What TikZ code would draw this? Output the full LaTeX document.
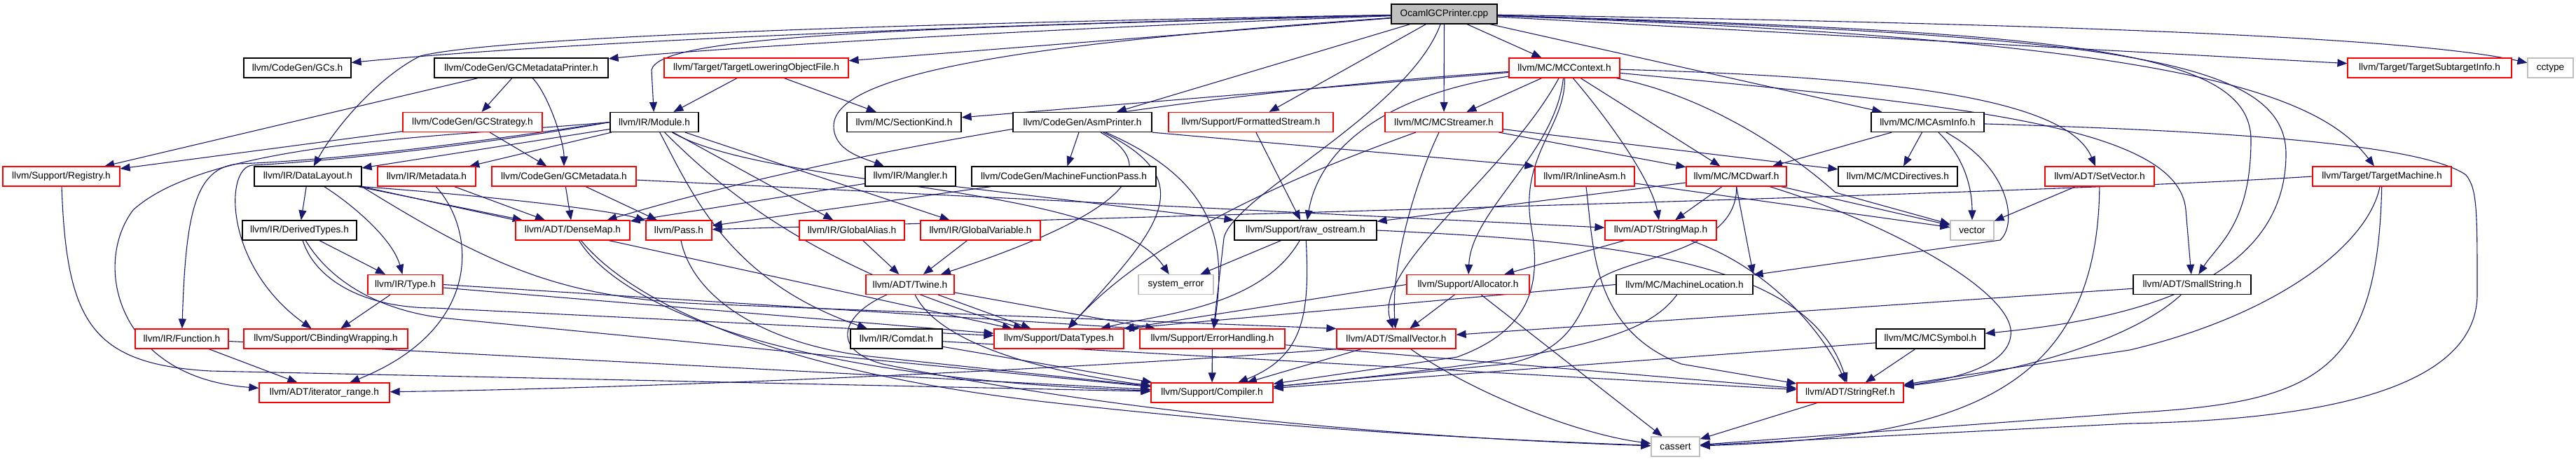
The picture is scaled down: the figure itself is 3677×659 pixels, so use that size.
\documentclass[tikz,border=0pt]{standalone}
\usepackage{fontspec}
\setmainfont{Liberation Sans}
\usetikzlibrary{arrows.meta}
\definecolor{edgec}{HTML}{191970}
\definecolor{grayb}{HTML}{BFBFBF}
\definecolor{rootf}{HTML}{BFBFBF}
\definecolor{redb}{HTML}{FF0000}
\pgfdeclarelayer{bg}
\pgfsetlayers{bg,main}
\begin{document}
\begin{tikzpicture}[x=1pt,y=-1pt,
  nbox/.style={rectangle, draw=black, line width=1.2pt, fill=white, minimum height=28pt, inner sep=0pt, font=\fontsize{13.7}{16}\selectfont},
  rdbox/.style={nbox, draw=redb},
  gybox/.style={nbox, draw=grayb},
  rtbox/.style={nbox, fill=rootf},
  dep/.style={draw=edgec, line width=1.1pt, -{Triangle[length=14pt,width=11pt]}, fill=none}]
\useasboundingbox (0,0) rectangle (3677,659);
% row 0
\node[rtbox,minimum width=151pt] (root) at (2061.5,20) {OcamlGCPrinter.cpp};
% row 1
\node[nbox,minimum width=153pt] (gcs) at (424.5,97) {llvm/CodeGen/GCs.h};
\node[nbox,minimum width=248pt] (gcmp) at (744,97) {llvm/CodeGen/GCMetadataPrinter.h};
\node[rdbox,minimum width=263pt] (tlof) at (1079.5,97) {llvm/Target/TargetLoweringObjectFile.h};
\node[rdbox,minimum width=158pt] (mcctx) at (2233,97) {llvm/MC/MCContext.h};
\node[rdbox,minimum width=234pt] (tsi) at (3468,97) {llvm/Target/TargetSubtargetInfo.h};
\node[gybox,minimum width=65pt] (cctype) at (3640.5,97) {cctype};
% row 2
\node[rdbox,minimum width=199pt] (gcstrat) at (674.5,174.5) {llvm/CodeGen/GCStrategy.h};
\node[nbox,minimum width=126pt] (module) at (934,174.5) {llvm/IR/Module.h};
\node[nbox,minimum width=163pt] (seck) at (1290.5,174.5) {llvm/MC/SectionKind.h};
\node[nbox,minimum width=198pt] (asmp) at (1545,174.5) {llvm/CodeGen/AsmPrinter.h};
\node[rdbox,minimum width=235pt] (fstream) at (1785.5,174.5) {llvm/Support/FormattedStream.h};
\node[rdbox,minimum width=168pt] (mcstr) at (2061,174.5) {llvm/MC/MCStreamer.h};
\node[nbox,minimum width=161pt] (mcai) at (2751.5,174.5) {llvm/MC/MCAsmInfo.h};
% row 3
\node[rdbox,minimum width=167pt] (reg) at (87.5,252) {llvm/Support/Registry.h};
\node[nbox,minimum width=153pt] (dl) at (439.5,252) {llvm/IR/DataLayout.h};
\node[rdbox,minimum width=140pt] (meta) at (609,252) {llvm/IR/Metadata.h};
\node[rdbox,minimum width=206pt] (gcmd) at (805,252) {llvm/CodeGen/GCMetadata.h};
\node[nbox,minimum width=129pt] (mangler) at (1299.5,252) {llvm/IR/Mangler.h};
\node[nbox,minimum width=263pt] (mfp) at (1518.5,252) {llvm/CodeGen/MachineFunctionPass.h};
\node[rdbox,minimum width=142pt] (inasm) at (2262,252) {llvm/IR/InlineAsm.h};
\node[rdbox,minimum width=143pt] (dwarf) at (2478.5,252) {llvm/MC/MCDwarf.h};
\node[nbox,minimum width=170pt] (mcdir) at (2709,252) {llvm/MC/MCDirectives.h};
\node[rdbox,minimum width=156pt] (setv) at (2997,252) {llvm/ADT/SetVector.h};
\node[rdbox,minimum width=198pt] (tm) at (3400,252) {llvm/Target/TargetMachine.h};
% row 4
\node[nbox,minimum width=163pt] (dtypes) at (427.5,329) {llvm/IR/DerivedTypes.h};
\node[rdbox,minimum width=163pt] (dmap) at (817.5,329) {llvm/ADT/DenseMap.h};
\node[rdbox,minimum width=94pt] (pass) at (969,329) {llvm/Pass.h};
\node[rdbox,minimum width=150pt] (galias) at (1216,329) {llvm/IR/GlobalAlias.h};
\node[rdbox,minimum width=171pt] (gvar) at (1399.5,329) {llvm/IR/GlobalVariable.h};
\node[nbox,minimum width=203pt] (raw) at (1863.5,329) {llvm/Support/raw\_ostream.h};
\node[rdbox,minimum width=159pt] (smap) at (2370.5,329) {llvm/ADT/StringMap.h};
\node[gybox,minimum width=62pt] (vector) at (2815,329) {vector};
% row 5
\node[rdbox,minimum width=107pt] (type) at (578.5,406.5) {llvm/IR/Type.h};
\node[rdbox,minimum width=126pt] (twine) at (1299,406.5) {llvm/ADT/Twine.h};
\node[gybox,minimum width=107pt] (syserr) at (1678.5,406.5) {system\_error};
\node[rdbox,minimum width=175pt] (alloc) at (2095.5,406.5) {llvm/Support/Allocator.h};
\node[nbox,minimum width=195pt] (mloc) at (2404.5,406.5) {llvm/MC/MachineLocation.h};
\node[nbox,minimum width=168pt] (sstr) at (3129,406.5) {llvm/ADT/SmallString.h};
% row 6
\node[rdbox,minimum width=133pt] (func) at (259.5,484) {llvm/IR/Function.h};
\node[rdbox,minimum width=234pt] (cbind) at (465,484) {llvm/Support/CBindingWrapping.h};
\node[nbox,minimum width=131pt] (comdat) at (1279.5,484) {llvm/IR/Comdat.h};
\node[rdbox,minimum width=185pt] (dtypes2) at (1511.5,484) {llvm/Support/DataTypes.h};
\node[rdbox,minimum width=207pt] (errh) at (1730.5,484) {llvm/Support/ErrorHandling.h};
\node[rdbox,minimum width=170pt] (svec) at (1993,484) {llvm/ADT/SmallVector.h};
\node[nbox,minimum width=155pt] (mcsym) at (2755.5,484) {llvm/MC/MCSymbol.h};
% row 7
\node[rdbox,minimum width=186pt] (itr) at (463,561) {llvm/ADT/iterator\_range.h};
\node[rdbox,minimum width=174pt] (comp) at (1730,561) {llvm/Support/Compiler.h};
\node[rdbox,minimum width=152pt] (sref) at (2641,561) {llvm/ADT/StringRef.h};
% row 8
\node[gybox,minimum width=69pt] (cassert) at (2391.5,638) {cassert};

\begin{pgfonlayer}{bg}
% root
\draw[dep] (root) .. controls (1400,35) and (800,60) .. (gcs);
\draw[dep] (root) .. controls (1500,40) and (1000,70) .. (gcmp);
\draw[dep] (root) .. controls (1200,35) and (700,55) .. (600,80) .. controls (540,110) and (480,180) .. (dl);
\draw[dep] (root) .. controls (1300,40) and (940,50) .. (930,100) -- (module);
\draw[dep] (root) -- (tlof);
\draw[dep] (root) .. controls (1500,60) and (1190,100) .. (1190,180) .. controls (1190,215) and (1230,225) .. (mangler);
\draw[dep] (root) -- (asmp);
\draw[dep] (root) -- (fstream);
\draw[dep] (root) -- (mcstr);
\draw[dep] (root) -- (mcctx);
\draw[dep] (root) -- (mcai);
\draw[dep] (root) -- (tsi);
\draw[dep] (root) .. controls (3000,35) and (3450,55) .. (cctype);
\draw[dep] (root) .. controls (3050,55) and (3300,120) .. (tm);
\draw[dep] (root) .. controls (2950,45) and (3213,70) .. (3213,200) .. controls (3213,320) and (3165,350) .. (sstr);
\draw[dep] (root) .. controls (3000,50) and (3263,80) .. (3263,220) .. controls (3263,420) and (3000,460) .. (mcsym);
\draw[dep] (root) .. controls (2010,160) and (1760,280) .. (1747,340) -- (errh);
% GCMetadataPrinter, GCStrategy, TLOF
\draw[dep] (gcmp) -- (gcstrat);
\draw[dep] (gcmp) .. controls (780,130) and (805,200) .. (gcmd);
\draw[dep] (gcmp) -- (reg);
\draw[dep] (gcstrat) -- (gcmd);
\draw[dep] (gcstrat) -- (reg);
\draw[dep] (tlof) -- (module);
\draw[dep] (tlof) -- (seck);
% Module
\draw[dep] (module) -- (meta);
\draw[dep] (module) -- (dl);
\draw[dep] (module) -- (galias);
\draw[dep] (module) -- (gvar);
\draw[dep] (module) .. controls (990,280) and (1040,400) .. (comdat);
\draw[dep] (module) .. controls (1020,260) and (1150,380) .. (dtypes2);
\draw[dep] (module) .. controls (1100,270) and (1580,260) .. (syserr);
\draw[dep] (module.west) .. controls (700,200) and (500,228) .. (340,234) .. controls (280,240) and (265,300) .. (func);
\draw[dep] (module.west) .. controls (700,205) and (480,230) .. (360,236) .. controls (320,240) and (320,380) .. (cbind);
\draw[dep] (module.west) .. controls (650,195) and (300,200) .. (190,300) .. controls (130,380) and (170,540) .. (itr);
% DataLayout
\draw[dep] (dl) -- (dtypes);
\draw[dep] (dl) .. controls (500,290) and (560,340) .. (type);
\draw[dep] (dl) -- (dmap);
\draw[dep] (dl.south east) .. controls (700,280) and (870,300) .. (pass);
\draw[dep] (dl.south east) -- (dtypes2);
\draw[dep] (dl.south east) .. controls (700,380) and (800,425) .. (1000,434) -- (svec.north west);
% DerivedTypes, Type, Function, Metadata
\draw[dep] (dtypes) -- (type);
\draw[dep] (dtypes) .. controls (450,400) and (520,440) .. (620,440) -- (dtypes2);
\draw[dep] (dtypes) .. controls (470,400) and (540,445) .. (640,455) -- (comp);
\draw[dep] (type) -- (cbind);
\draw[dep] (type) -- (dtypes2);
\draw[dep] (type.east) -- (errh.north west);
\draw[dep] (func) -- (itr);
\draw[dep] (func) -- (comp);
\draw[dep] (meta) -- (dmap);
\draw[dep] (meta) .. controls (680,330) and (690,470) .. (itr);
% Registry
\draw[dep] (reg) .. controls (95,460) and (130,520) .. (300,530) -- (comp);
% GCMetadata
\draw[dep] (gcmd) -- (dmap);
\draw[dep] (gcmd) -- (pass);
\draw[dep] (gcmd) -- (smap);
% Mangler
\draw[dep] (mangler) -- (dmap);
\draw[dep] (mangler.south east) -- (raw.north west);
% AsmPrinter
\draw[dep] (asmp) -- (mfp);
\draw[dep] (asmp) .. controls (1680,250) and (1560,320) .. (twine);
\draw[dep] (asmp.south east) -- (inasm.north west);
\draw[dep] (asmp) .. controls (1720,260) and (1650,330) .. (dtypes2);
\draw[dep] (asmp) .. controls (1740,260) and (1750,350) .. (errh);
\draw[dep] (mfp) -- (pass);
\draw[dep] (fstream) -- (raw);
% MCStreamer
\draw[dep] (mcstr) .. controls (2020,260) and (1985,380) .. (svec);
\draw[dep] (mcstr) -- (mcdir);
\draw[dep] (mcstr) -- (dwarf);
\draw[dep] (mcstr) .. controls (1880,240) and (1650,330) .. (dtypes2);
% MCContext
\draw[dep] (mcctx) -- (seck);
\draw[dep] (mcctx) .. controls (1600,140) and (1150,230) .. (dmap);
\draw[dep] (mcctx) -- (mcstr);
\draw[dep] (mcctx) .. controls (1950,140) and (1880,230) .. (raw);
\draw[dep] (mcctx) .. controls (2150,250) and (1960,380) .. (svec);
\draw[dep] (mcctx) .. controls (2220,220) and (2100,300) .. (alloc);
\draw[dep] (mcctx) .. controls (2235,180) and (2170,220) .. (2185,320) .. controls (2200,400) and (2190,470) .. (2080,510) -- (comp);
\draw[dep] (mcctx) .. controls (2320,200) and (2360,270) .. (smap);
\draw[dep] (mcctx) -- (dwarf);
\draw[dep] (mcctx) .. controls (2700,110) and (2950,140) .. (setv);
\draw[dep] (mcctx) .. controls (2450,140) and (2570,230) .. (2620,275) -- (vector);
\draw[dep] (mcctx) .. controls (2800,150) and (3110,180) .. (3120,300) -- (sstr);
% MCAsmInfo
\draw[dep] (mcai) -- (dwarf);
\draw[dep] (mcai) -- (mcdir);
\draw[dep] (mcai) .. controls (2810,230) and (2815,280) .. (vector);
\draw[dep] (mcai) .. controls (2870,240) and (2880,320) .. (2855,343) -- (mloc);
\draw[dep] (mcai) .. controls (3100,185) and (3450,200) .. (3520,250) .. controls (3536,270) and (3536,300) .. (3536,420) .. controls (3536,560) and (3300,600) .. (3040,605) -- (cassert);
% InlineAsm
\draw[dep] (inasm) .. controls (2275,350) and (2270,470) .. (2400,520) -- (sref);
\draw[dep] (inasm) -- (vector);
% MCDwarf
\draw[dep] (dwarf) -- (smap);
\draw[dep] (dwarf) -- (vector);
\draw[dep] (dwarf) -- (raw);
\draw[dep] (dwarf.south) -- (mloc.north east);
\draw[dep] (dwarf) .. controls (2700,320) and (2880,420) .. (2870,480) .. controls (2865,520) and (2800,540) .. (sref);
\draw[dep] (dwarf) .. controls (2480,360) and (2330,365) .. (2280,400) .. controls (2255,440) and (2250,500) .. (2150,520) -- (comp);
% SetVector, TargetMachine
\draw[dep] (setv) -- (vector);
\draw[dep] (setv) .. controls (2994,560) and (2800,625) .. (cassert);
\draw[dep] (tm.west) .. controls (3000,272) and (2000,300) .. (pass);
\draw[dep] (tm) .. controls (3380,350) and (3250,450) .. (3040,500) -- (sref);
\draw[dep] (tm) .. controls (3394,540) and (3300,575) .. (3040,590) -- (cassert);
% DenseMap, Pass
\draw[dep] (dmap) .. controls (880,430) and (1100,540) .. (comp);
\draw[dep] (dmap) .. controls (900,430) and (1100,530) .. (1500,575) .. controls (1900,620) and (2200,630) .. (cassert);
\draw[dep] (pass) .. controls (990,430) and (1100,495) .. (1250,510) -- (comp);
% Globals, Twine
\draw[dep] (galias) -- (twine);
\draw[dep] (gvar) -- (twine);
\draw[dep] (twine) -- (dtypes2);
\draw[dep] (twine) -- (errh);
\draw[dep] (twine) .. controls (1330,470) and (1420,520) .. (1620,548) -- (comp);
\draw[dep] (twine) .. controls (1200,450) and (1185,500) .. (1260,520) .. controls (1600,590) and (2000,625) .. (cassert);
% raw_ostream
\draw[dep] (raw) .. controls (1870,450) and (1860,510) .. (comp);
\draw[dep] (raw) .. controls (1800,440) and (1650,450) .. (dtypes2);
\draw[dep] (raw) -- (syserr);
\draw[dep] (raw.east) .. controls (2300,345) and (2580,370) .. (sref);
% StringMap, Allocator, MachineLocation
\draw[dep] (smap) -- (alloc);
\draw[dep] (smap) .. controls (2520,380) and (2600,470) .. (sref);
\draw[dep] (alloc) -- (svec);
\draw[dep] (alloc.west) -- (dtypes2.north east);
\draw[dep] (alloc) -- (cassert);
\draw[dep] (mloc) .. controls (2350,480) and (2250,510) .. (comp);
\draw[dep] (mloc.west) -- (dtypes2.north east);
% SmallString
\draw[dep] (sstr) -- (svec);
\draw[dep] (sstr) .. controls (3050,480) and (2900,530) .. (sref);
% Comdat, ErrorHandling, SmallVector, MCSymbol, StringRef
\draw[dep] (comdat) -- (comp);
\draw[dep] (comdat) -- (sref);
\draw[dep] (errh) -- (comp);
\draw[dep] (errh) -- (sref);
\draw[dep] (svec.south west) .. controls (1500,530) and (900,555) .. (itr);
\draw[dep] (svec) -- (comp);
\draw[dep] (svec) .. controls (2100,560) and (2250,620) .. (cassert);
\draw[dep] (mcsym) -- (sref);
\draw[dep] (mcsym) -- (comp);
\draw[dep] (sref) -- (cassert);
\end{pgfonlayer}
\end{tikzpicture}
\end{document}
